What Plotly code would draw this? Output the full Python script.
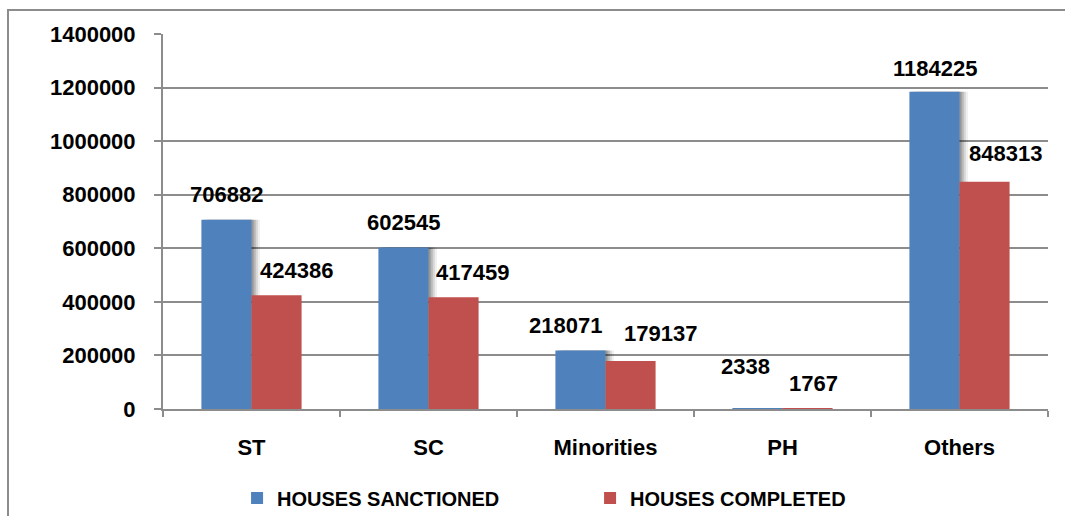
import plotly.graph_objects as go

categories = ['ST', 'SC', 'Minorities', 'PH', 'Others']
houses_sanctioned = [706882, 602545, 218071, 2338, 1184225]
houses_completed = [424386, 417459, 179137, 1767, 848313]
y_ticks = [0, 200000, 400000, 600000, 800000, 1000000, 1200000, 1400000]

blue = '#4F81BD'
red = '#C0504D'
grid = '#8C8C8C'
font_family = 'Liberation Sans, Arial, sans-serif'

bar_w = 0.283  # each bar's share of a category slot

fig = go.Figure()

# soft shadow to the right of the blue bars
for shift, alpha in [(0.012, 0.18), (0.024, 0.14), (0.036, 0.10), (0.048, 0.06)]:
    fig.add_trace(go.Bar(
        x=categories, y=houses_sanctioned,
        offset=-bar_w + shift, width=bar_w,
        marker=dict(color=f'rgba(0,0,0,{alpha})', line_width=0),
        showlegend=False, hoverinfo='skip',
    ))

fig.add_trace(go.Bar(
    x=categories, y=houses_sanctioned, name='HOUSES SANCTIONED',
    offset=-bar_w, width=bar_w,
    marker=dict(color=blue, line_width=0),
))
fig.add_trace(go.Bar(
    x=categories, y=houses_completed, name='HOUSES COMPLETED',
    offset=0, width=bar_w,
    marker=dict(color=red, line_width=0),
))

# data labels, nudged like the original
blue_shift = [(0, 11), (0, 11), (-15, 11), (-12, 27), (0, 9)]
red_shift = [(20, 10), (19, 10), (30, 13), (6, 11), (21, 14)]
label_font = dict(family=font_family, size=22, color='black')
for i, cat in enumerate(categories):
    fig.add_annotation(
        x=cat, y=houses_sanctioned[i], text=f'<b>{houses_sanctioned[i]}</b>',
        xshift=-25 + blue_shift[i][0], yshift=blue_shift[i][1],
        yanchor='bottom', showarrow=False, font=label_font,
    )
    fig.add_annotation(
        x=cat, y=houses_completed[i], text=f'<b>{houses_completed[i]}</b>',
        xshift=25 + red_shift[i][0], yshift=red_shift[i][1],
        yanchor='bottom', showarrow=False, font=label_font,
    )

# outer chart frame (left and top edges visible)
fig.add_shape(type='rect', xref='paper', yref='paper',
              x0=-155 / 885, x1=1.3, y0=-0.5, y1=1.064,
              line=dict(color='#8C8C8C', width=2), layer='below')

fig.update_layout(
    width=1065, height=516,
    margin=dict(l=163, r=17, t=34, b=107),
    paper_bgcolor='white', plot_bgcolor='white',
    barmode='overlay',
    font=dict(family=font_family, size=22, color='black'),
    legend=dict(
        orientation='h', xref='container', x=0.2226, xanchor='left',
        yref='container', y=0.035, yanchor='middle',
        font=dict(family=font_family, size=20, color='black', weight='bold'),
        itemwidth=30, entrywidth=308, traceorder='normal',
    ),
    showlegend=True,
)

fig.update_xaxes(
    showgrid=False, showline=True, linecolor=grid, linewidth=2,
    ticks='outside', tickson='boundaries', ticklen=6, tickcolor=grid,
    tickwidth=2, ticklabelstandoff=18,
    tickfont=dict(family=font_family, size=22, color='black', weight='bold'),
)
fig.update_yaxes(
    range=[0, 1400000], tickvals=y_ticks, ticktext=[str(v) for v in y_ticks],
    showgrid=True, gridcolor=grid, gridwidth=2,
    showline=True, linecolor=grid, linewidth=2,
    ticks='outside', ticklen=7, tickcolor=grid, tickwidth=2,
    ticklabelstandoff=14, zeroline=False,
    tickfont=dict(family=font_family, size=22, color='black', weight='bold'),
)

fig.write_html('out.html', config={'displayModeBar': False},
               post_script="document.body.style.margin='0';")
